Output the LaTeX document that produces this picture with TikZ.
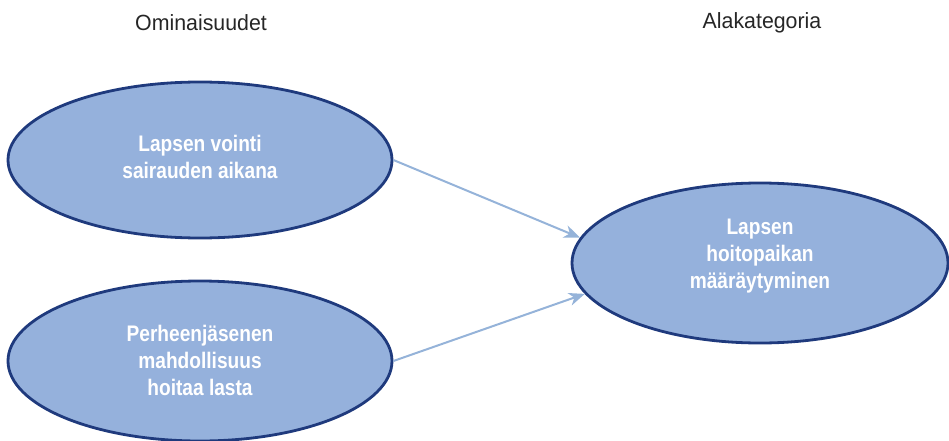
\documentclass[tikz,border=0pt]{standalone}
\usepackage{fontspec}
\setmainfont{Liberation Sans}
\newfontfamily\nb[FakeStretch=0.85]{Liberation Sans}
\newfontfamily\hd[FakeStretch=0.97]{Liberation Sans}
\usetikzlibrary{shapes.geometric,arrows.meta}
\definecolor{efill}{HTML}{95B1DC}
\definecolor{edraw}{HTML}{1F3A7D}
\definecolor{arr}{HTML}{95B3D9}
\definecolor{hdtext}{HTML}{262626}
\tikzset{
  oval/.style={ellipse, draw=edraw, fill=efill, line width=2.8pt, inner sep=0pt,
    minimum width=384pt, minimum height=156pt},
  ovaltext/.style={text=white, align=center, font=\nb\bfseries\fontsize{22.5pt}{27pt}\selectfont},
  heading/.style={text=hdtext, font=\hd\fontsize{22pt}{26pt}\selectfont},
  link/.style={draw=arr, line width=2pt, -{Stealth[length=16pt,width=13pt,inset=5pt]}}
}
\begin{document}
\begin{tikzpicture}[x=1pt,y=-1pt]
\useasboundingbox (0,0) rectangle (949,441);
\node[heading] (h1) at (201,23) {Ominaisuudet};
\node[heading] (h2) at (762,23) {Alakategoria};
\node[oval] (e1) at (200,160) {};
\node[oval, minimum height=160pt] (e2) at (200,361) {};
\node[oval, minimum width=376pt, minimum height=160pt] (e3) at (760,263) {};
\node[ovaltext] (t1) at (200,157) {Lapsen vointi\\sairauden aikana};
\node[ovaltext] (t2) at (200,360) {Perheenjäsenen\\mahdollisuus\\hoitaa lasta};
\node[ovaltext] (t3) at (760,256) {Lapsen\\hoitopaikan\\määräytyminen};
\draw[link] (e1.east) -- (e3.172);
\draw[link] (e2.east) -- (e3.190);
\end{tikzpicture}
\end{document}
